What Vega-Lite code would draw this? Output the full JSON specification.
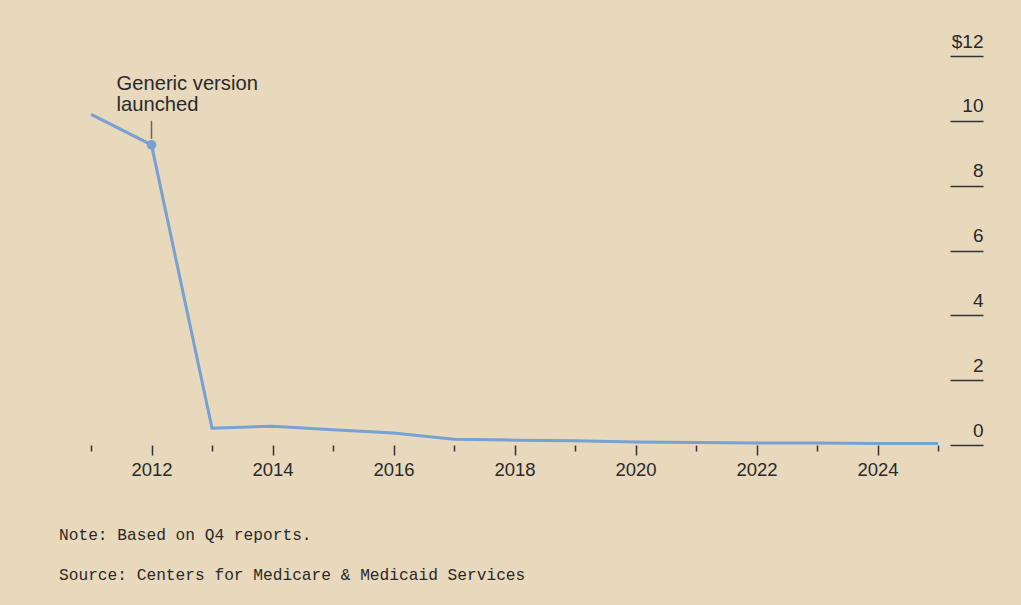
{
  "$schema": "https://vega.github.io/schema/vega-lite/v6.json",
  "width": 847,
  "height": 389,
  "autosize": "none",
  "padding": {"left": 91, "top": 56, "right": 83, "bottom": 160},
  "background": "#e8d8bc",
  "config": {
    "view": {"stroke": null},
    "font": "Liberation Sans"
  },
  "title": {
    "text": ["Note: Based on Q4 reports.", "Source: Centers for Medicare & Medicaid Services"],
    "orient": "bottom",
    "anchor": "start",
    "frame": "group",
    "font": "Liberation Mono",
    "fontSize": 16.2,
    "fontWeight": "normal",
    "color": "#2a2a2a",
    "lineHeight": 40,
    "dx": -32,
    "offset": 48
  },
  "data": {
    "values": [
      {"year": 2011, "price": 10.2},
      {"year": 2012, "price": 9.26},
      {"year": 2013, "price": 0.52},
      {"year": 2014, "price": 0.58},
      {"year": 2015, "price": 0.47},
      {"year": 2016, "price": 0.37},
      {"year": 2017, "price": 0.18},
      {"year": 2018, "price": 0.15},
      {"year": 2019, "price": 0.13},
      {"year": 2020, "price": 0.09},
      {"year": 2021, "price": 0.08},
      {"year": 2022, "price": 0.06},
      {"year": 2023, "price": 0.06},
      {"year": 2024, "price": 0.05},
      {"year": 2025, "price": 0.05}
    ]
  },
  "encoding": {
    "x": {
      "field": "year",
      "type": "quantitative",
      "scale": {"domain": [2011, 2025], "nice": false, "zero": false},
      "axis": {
        "title": null,
        "domain": false,
        "grid": false,
        "values": [2011, 2012, 2013, 2014, 2015, 2016, 2017, 2018, 2019, 2020, 2021, 2022, 2023, 2024, 2025],
        "labelExpr": "datum.value % 2 === 0 ? datum.value + '' : ''",
        "tickSize": {"condition": {"test": "datum.value % 2 === 0", "value": 10}, "value": 6},
        "tickColor": "#333333",
        "tickWidth": 1.5,
        "offset": 0,
        "labelFontSize": 18.5,
        "labelColor": "#2a2a2a",
        "labelPadding": 5,
        "labelFlush": false
      }
    },
    "y": {
      "field": "price",
      "type": "quantitative",
      "scale": {"domain": [0, 12], "nice": false},
      "axis": {
        "title": null,
        "orient": "right",
        "domain": false,
        "grid": false,
        "values": [0, 2, 4, 6, 8, 10, 12],
        "labelExpr": "datum.value === 12 ? '$12' : datum.label",
        "offset": 12,
        "tickSize": 33,
        "tickWidth": 1.5,
        "tickColor": "#333333",
        "labelAlign": "right",
        "labelBaseline": "bottom",
        "labelPadding": 0,
        "labelOffset": -5,
        "labelFontSize": 19,
        "labelColor": "#2a2a2a"
      }
    }
  },
  "layer": [
    {
      "mark": {"type": "line", "color": "#77a0d3", "strokeWidth": 3}
    },
    {
      "transform": [{"filter": "datum.year === 2012"}],
      "mark": {"type": "point", "filled": true, "color": "#77a0d3", "size": 95, "opacity": 1}
    },
    {
      "transform": [{"filter": "datum.year === 2012"}],
      "mark": {"type": "tick", "orient": "vertical", "color": "#333333", "size": 18, "thickness": 1.5, "yOffset": -15}
    },
    {
      "transform": [{"filter": "datum.year === 2012"}],
      "mark": {"type": "text", "text": ["Generic version", "launched"], "align": "left", "baseline": "bottom", "dx": -35, "dy": -51, "fontSize": 20.2, "lineHeight": 21, "color": "#2a2a2a"}
    }
  ]
}
